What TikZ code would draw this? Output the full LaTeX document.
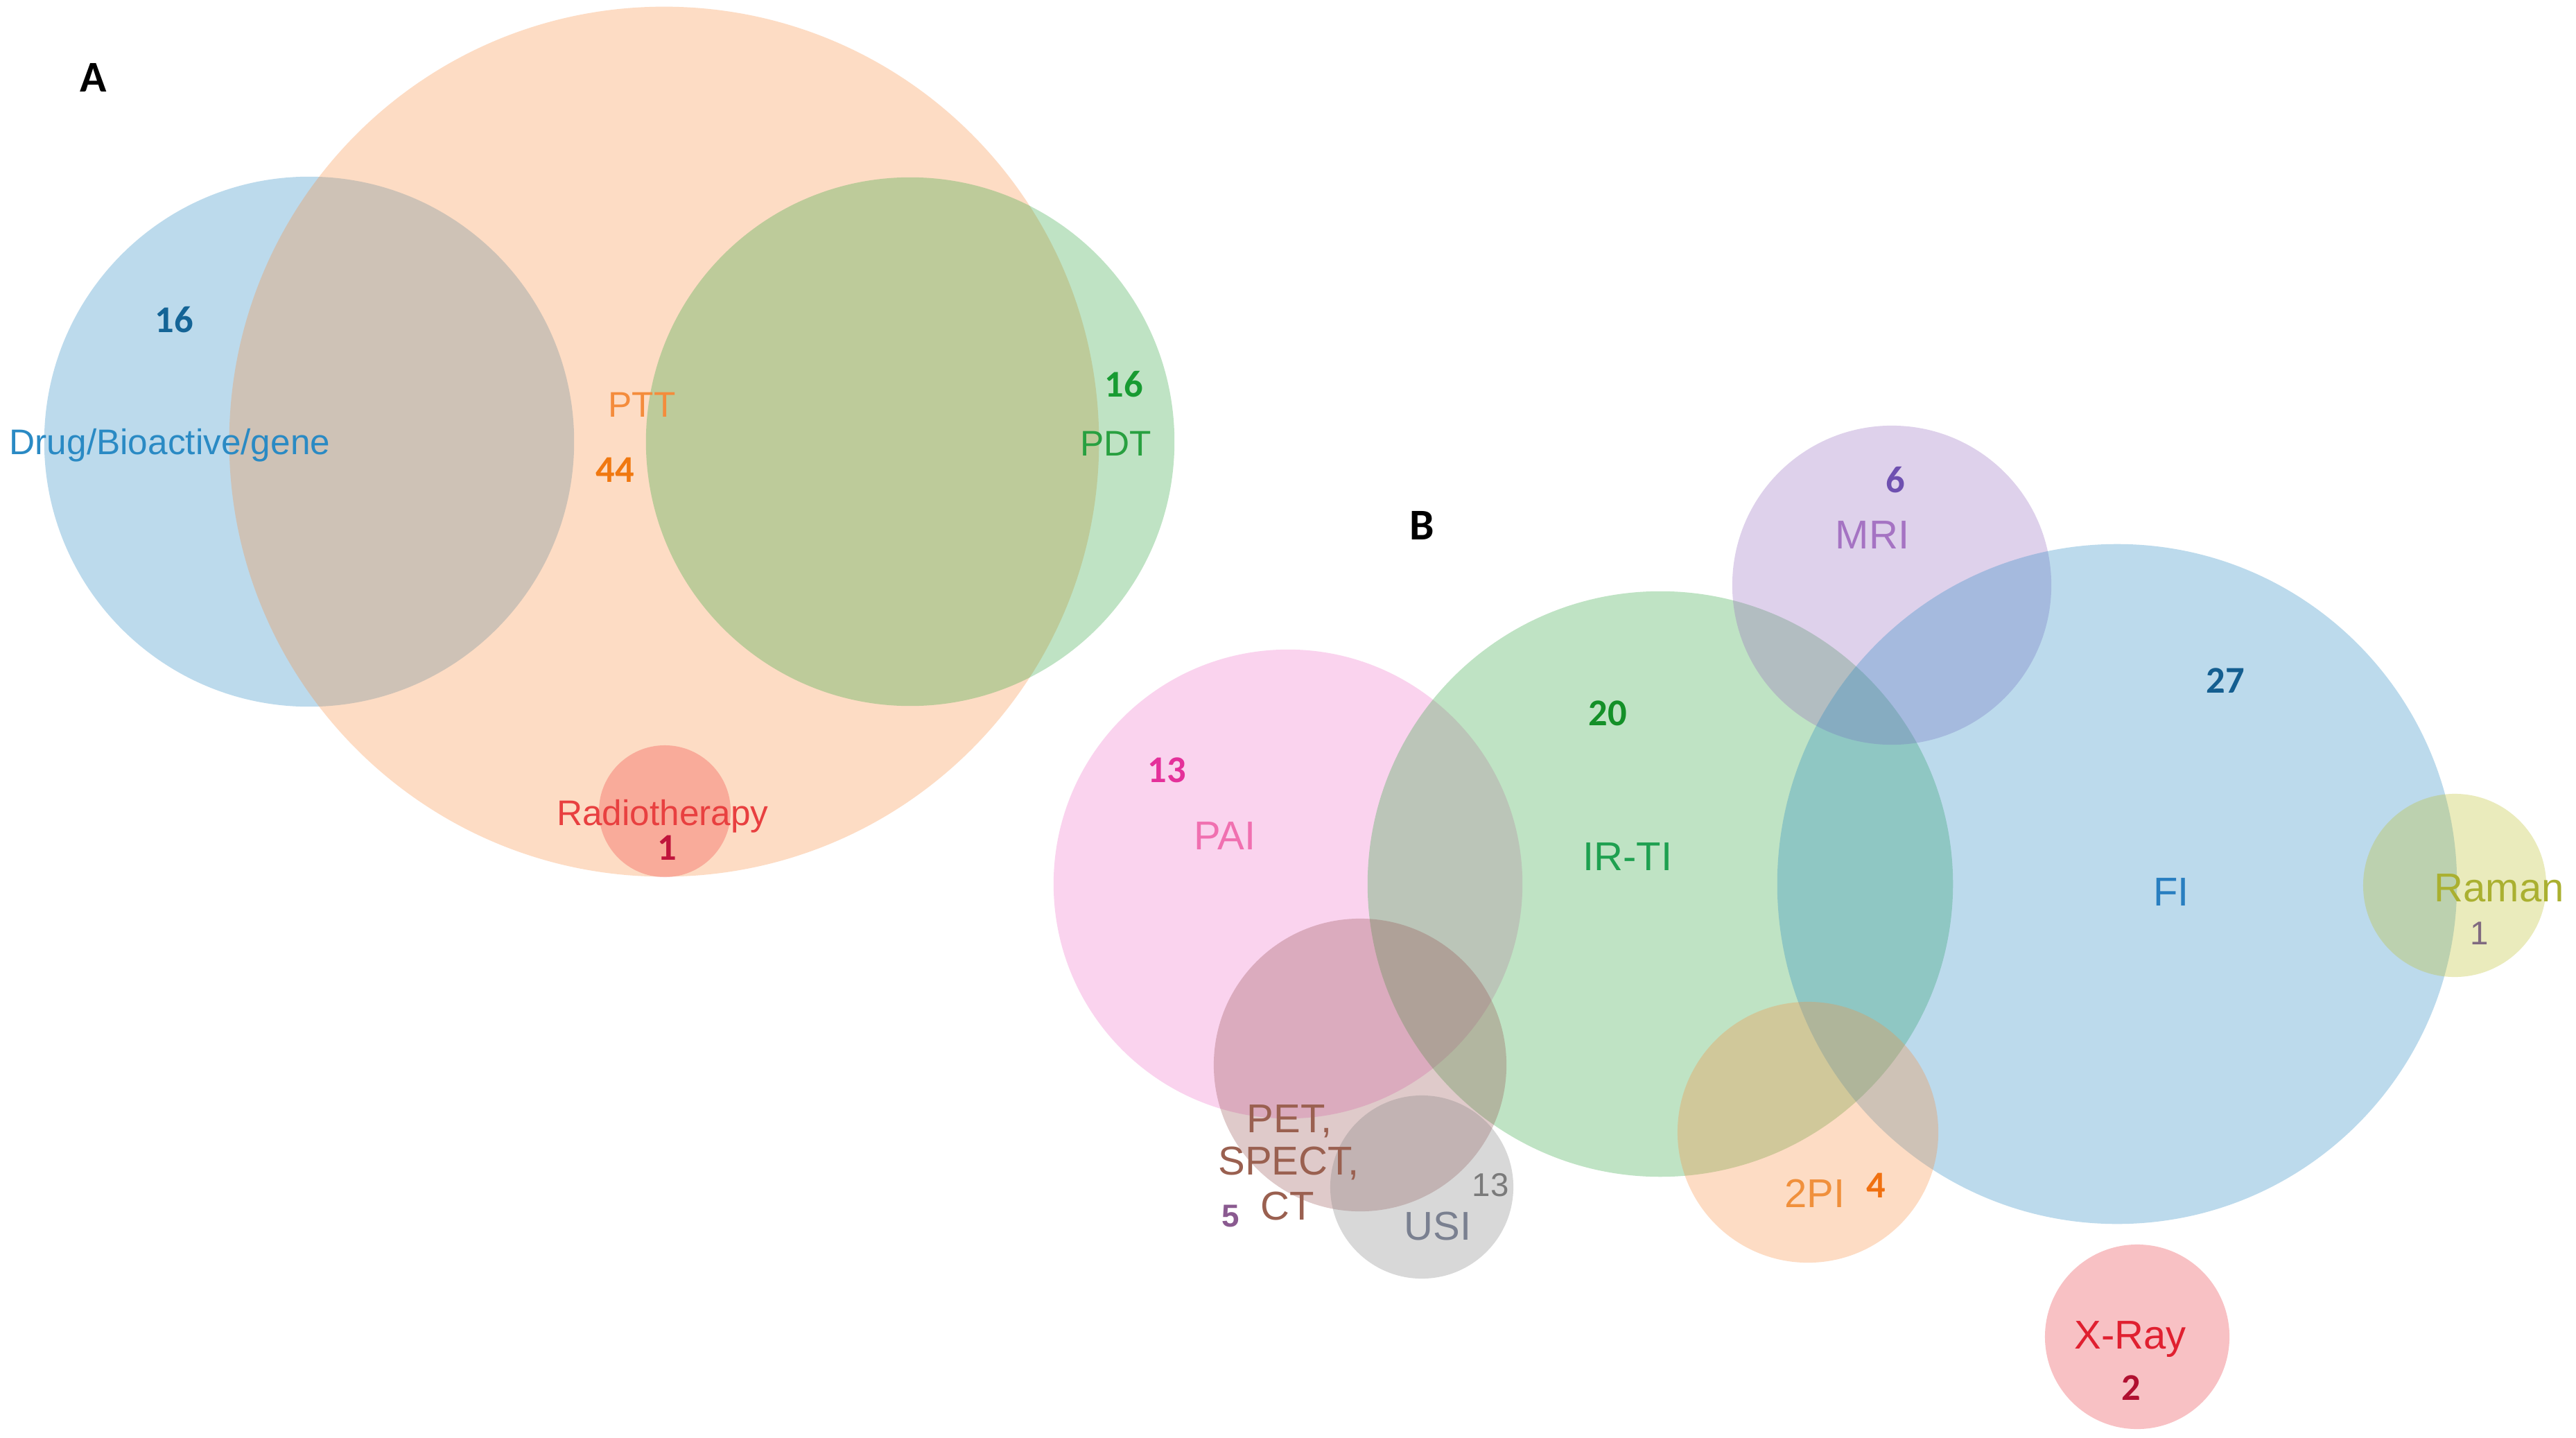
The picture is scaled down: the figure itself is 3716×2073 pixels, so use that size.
\documentclass[tikz,border=0pt]{standalone}
\usepackage{fontspec}
\setmainfont{Liberation Sans}
\newfontfamily\numf{Carlito}
\definecolor{cblue}{RGB}{35,135,195}
\definecolor{corange}{RGB}{250,140,60}
\definecolor{cgreen}{RGB}{44,165,60}
\definecolor{cred}{RGB}{240,60,60}
\definecolor{cpink}{RGB}{240,110,200}
\definecolor{cpurple}{RGB}{148,103,189}
\definecolor{colive}{RGB}{188,189,34}
\definecolor{cbrown}{RGB}{150,80,80}
\definecolor{cgrey}{RGB}{127,127,127}
\definecolor{cxray}{RGB}{235,50,60}
\definecolor{tDrug}{RGB}{42,138,196}
\definecolor{nDrug}{RGB}{20,100,150}
\definecolor{tPTT}{RGB}{244,140,60}
\definecolor{nPTT}{RGB}{240,120,16}
\definecolor{tPDT}{RGB}{40,160,64}
\definecolor{nPDT}{RGB}{24,155,50}
\definecolor{tRad}{RGB}{232,64,64}
\definecolor{nRad}{RGB}{192,20,60}
\definecolor{tMRI}{RGB}{165,115,195}
\definecolor{nMRI}{RGB}{110,80,176}
\definecolor{tFI}{RGB}{40,126,192}
\definecolor{nFI}{RGB}{20,94,144}
\definecolor{tIR}{RGB}{30,160,80}
\definecolor{nIR}{RGB}{20,144,40}
\definecolor{tPAI}{RGB}{240,112,176}
\definecolor{nPAI}{RGB}{228,48,154}
\definecolor{tRam}{RGB}{170,176,48}
\definecolor{nRam}{RGB}{128,106,128}
\definecolor{tPET}{RGB}{154,96,80}
\definecolor{nPET}{RGB}{138,90,144}
\definecolor{tUSI}{RGB}{122,128,144}
\definecolor{nUSI}{RGB}{122,122,122}
\definecolor{t2PI}{RGB}{240,144,60}
\definecolor{n2PI}{RGB}{240,112,16}
\definecolor{tXR}{RGB}{224,32,48}
\definecolor{nXR}{RGB}{176,16,48}
\tikzset{
  venn/.style={fill opacity=0.3},
  labA/.style={anchor=base,inner sep=0pt,font=\fontsize{14.6}{16}\selectfont},
  labB/.style={anchor=base,inner sep=0pt,font=\fontsize{16.5}{18}\selectfont},
  num/.style={anchor=base,inner sep=0pt,font=\numf\bfseries\fontsize{15.5}{17}\selectfont},
  numr/.style={anchor=base,inner sep=0pt,font=\fontsize{13.5}{15}\selectfont},
  panel/.style={anchor=base,inner sep=0pt,font=\numf\bfseries\fontsize{18}{20}\selectfont}
}
\begin{document}
\begin{tikzpicture}[x=0.01cm,y=-0.01cm]
\useasboundingbox[fill=white] (0,0) rectangle (3716,2073);
% Panel A circles
\fill[venn,cblue] (446,637) circle[radius=3.82cm];
\fill[venn,corange] (958,637) circle[radius=6.27cm];
\fill[venn,cgreen] (1313,637) circle[radius=3.81cm];
\fill[venn,cred] (959,1170) circle[radius=0.95cm];
% Panel B circles
\fill[venn,cpink] (1858,1275) circle[radius=3.38cm];
\fill[venn,cgreen] (2395,1275) circle[radius=4.22cm];
\fill[venn,cpurple] (2729,844) circle[radius=2.30cm];
\fill[venn,cblue] (3054,1275) circle[radius=4.90cm];
\fill[venn,colive] (3541,1277) circle[radius=1.32cm];
\fill[venn,cbrown] (1962,1536) circle[radius=2.11cm];
\fill[venn,cgrey] (2051,1712) circle[radius=1.32cm];
\fill[venn,corange] (2608,1633) circle[radius=1.88cm];
\fill[venn,cxray] (3083,1928) circle[radius=1.33cm];
% Panel A texts
\node[panel] (pA) at (135,133) {A};
\node[num,text=nDrug] (nDrug) at (251,479) {16};
\node[labA,text=tDrug] (lDrug) at (245,655) {Drug/Bioactive/gene};
\node[labA,text=tPTT] (lPTT) at (926,601) {PTT};
\node[num,text=nPTT] (nPTT) at (887,695) {44};
\node[num,text=nPDT] (nPDT) at (1621,572) {16};
\node[labA,text=tPDT] (lPDT) at (1610,657) {PDT};
\node[labA,text=tRad] (lRad) at (956,1190) {Radiotherapy};
\node[num,text=nRad] (nRad) at (962,1240) {1};
% Panel B texts
\node[panel] (pB) at (2051,778) {B};
\node[num,text=nMRI] (nMRI) at (2734,710) {6};
\node[labB,text=tMRI] (lMRI) at (2701,791) {MRI};
\node[num,text=nFI] (nFI) at (3210,999) {27};
\node[labB,text=tFI] (lFI) at (3132,1306) {FI};
\node[num,text=nIR] (nIR) at (2319,1046) {20};
\node[labB,text=tIR] (lIR) at (2348,1255) {IR-TI};
\node[num,text=nPAI] (nPAI) at (1683,1128) {13};
\node[labB,text=tPAI] (lPAI) at (1767,1225) {PAI};
\node[labB,text=tRam] (lRam) at (3605,1300) {Raman};
\node[numr,text=nRam] (nRam) at (3577,1362) {1};
\node[labB,text=tPET] (lPET1) at (1860,1633) {PET,};
\node[labB,text=tPET] (lPET2) at (1859,1694) {SPECT,};
\node[labB,text=tPET] (lPET3) at (1857,1759) {CT};
\node[numr,text=nPET,font=\bfseries\fontsize{13}{15}\selectfont] (nPET) at (1775,1769) {5};
\node[numr,text=nUSI] (nUSI) at (2150,1725) {13};
\node[labB,text=tUSI] (lUSI) at (2074,1788) {USI};
\node[labB,text=t2PI] (l2PI) at (2618,1741) {2PI};
\node[num,text=n2PI] (n2PI) at (2706,1727) {4};
\node[labB,text=tXR] (lXR) at (3073,1945) {X-Ray};
\node[num,text=nXR] (nXR) at (3074,2019) {2};
\end{tikzpicture}
\end{document}
